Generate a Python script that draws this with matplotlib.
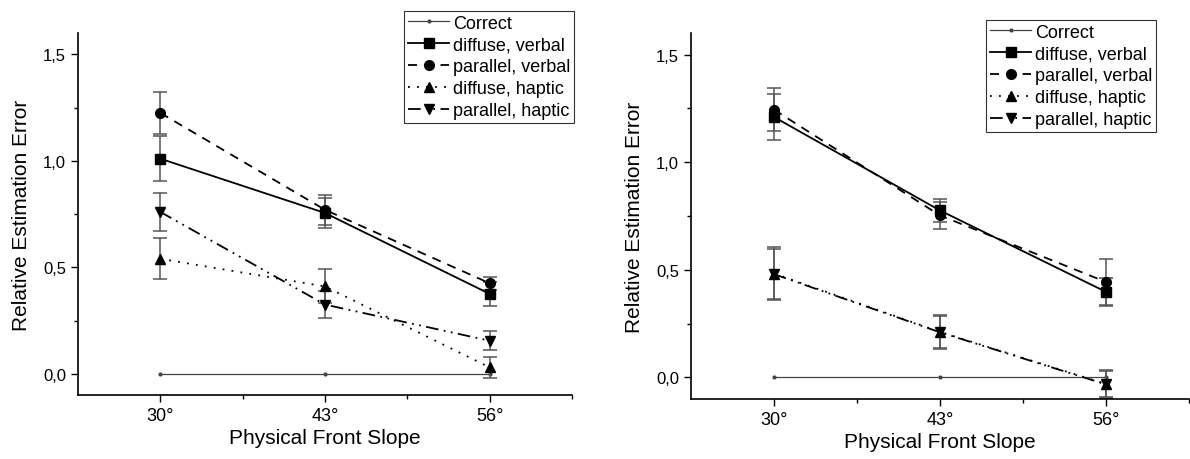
import numpy as np
import matplotlib
matplotlib.use("Agg")
import matplotlib.pyplot as plt
from matplotlib.ticker import MultipleLocator, FixedLocator

plt.rcParams['font.family'] = ['Liberation Sans', 'DejaVu Sans']

slopes = ['30°', '43°', '56°']
labels = ['diffuse, verbal', 'parallel, verbal', 'diffuse, haptic', 'parallel, haptic']

# left panel
left_means = [
    [1.01, 0.755, 0.375],
    [1.225, 0.77, 0.425],
    [0.54, 0.41, 0.03],
    [0.76, 0.325, 0.155],
]
left_errs = [
    [0.105, 0.07, 0.055],
    [0.097, 0.07, 0.03],
    [0.097, 0.08, 0.048],
    [0.088, 0.062, 0.045],
]

# right panel
right_means = [
    [1.21, 0.776, 0.398],
    [1.244, 0.753, 0.444],
    [0.483, 0.212, -0.03],
    [0.48, 0.21, -0.032],
]
right_errs = [
    [0.107, 0.055, 0.065],
    [0.1, 0.062, 0.108],
    [0.125, 0.08, 0.062],
    [0.115, 0.075, 0.065],
]

styles = [
    dict(marker='s', linestyle='-'),
    dict(marker='o', linestyle=(0, (5, 4))),
    dict(marker='^', linestyle=(0, (1, 4))),
    dict(marker='v', linestyle=(0, (7, 3, 1, 3, 1, 3))),
]

fig = plt.figure(figsize=(11.9, 4.6), dpi=100)
positions = [[0.0655, 0.139, 0.4152, 0.787], [0.5807, 0.1304, 0.4183, 0.7956]]
legend_anchor = [(574 / 1190, 1 - 12 / 460), (1156 / 1190, 1 - 21 / 460)]

x = np.arange(len(slopes))
for pos, means, errs, anchor in zip(positions, [left_means, right_means],
                                    [left_errs, right_errs], legend_anchor):
    ax = fig.add_axes(pos)
    correct, = ax.plot(x, np.zeros(len(x)), color='#444444', lw=0.9, marker='o',
                       ms=2, label='Correct')
    handles = [correct]
    for m, e, lab, st in zip(means, errs, labels, styles):
        cont = ax.errorbar(x, m, yerr=e, color='black', lw=1.3, ms=7,
                           ecolor='#555555', elinewidth=1.1, capsize=5,
                           capthick=1.1, label=lab, **st)
        handles.append(cont[0])
    ax.set_xlim(-0.5, 2.5)
    ax.set_ylim(-0.1, 1.6)
    ax.set_xticks(x)
    ax.set_xticklabels(slopes, fontsize=13)
    ax.xaxis.set_minor_locator(FixedLocator([0.5, 1.5, 2.5]))
    ax.yaxis.set_major_locator(FixedLocator([0.0, 0.5, 1.0, 1.5]))
    ax.yaxis.set_minor_locator(MultipleLocator(0.25))
    ax.yaxis.set_major_formatter(plt.FuncFormatter(lambda v, p: f'{v:.1f}'.replace('.', ',')))
    ax.tick_params(axis='y', labelsize=12)
    ax.tick_params(which='major', direction='out', length=5, width=1)
    ax.tick_params(which='minor', direction='out', length=3, width=1)
    for s in ['top', 'right']:
        ax.spines[s].set_visible(False)
    for s in ['left', 'bottom']:
        ax.spines[s].set_linewidth(1.2)
    ax.set_xlabel('Physical Front Slope', fontsize=15, labelpad=3)
    ax.set_ylabel('Relative Estimation Error', fontsize=15, labelpad=9)
    leg = fig.legend(handles, ['Correct'] + labels, loc='upper right',
                     bbox_to_anchor=anchor, borderaxespad=0, fontsize=13,
                     frameon=True, fancybox=False, edgecolor='black',
                     handlelength=2.3, handletextpad=0.2, labelspacing=0.27,
                     borderpad=0.2)
    leg.get_frame().set_linewidth(0.8)

fig.savefig('out.png', dpi=100)
